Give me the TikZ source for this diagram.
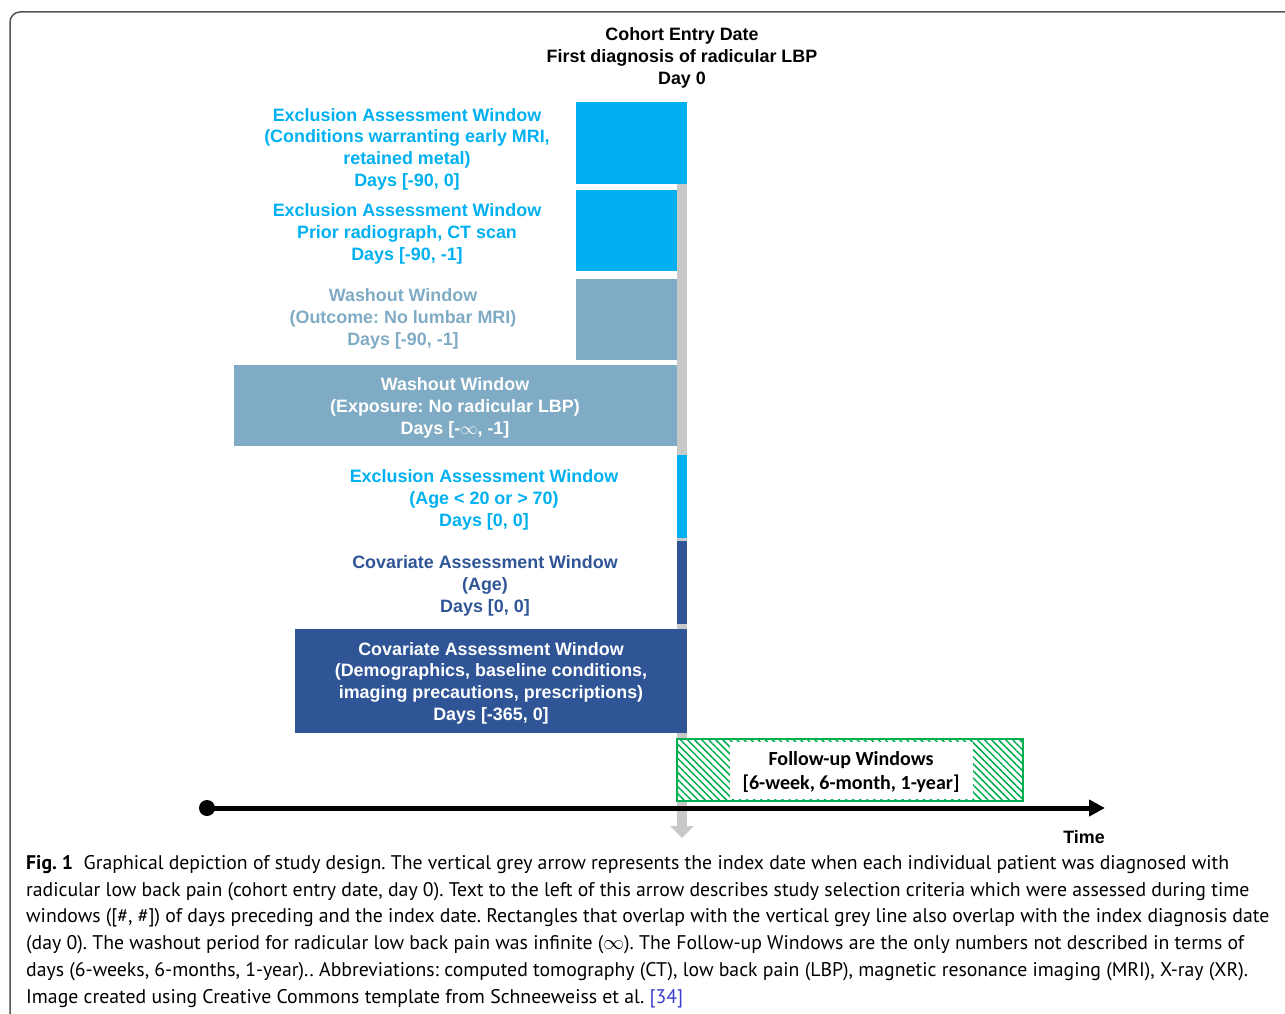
\documentclass[tikz,border=0pt]{standalone}
\usepackage{fontspec}
\setmainfont{Liberation Sans}
\newfontfamily\capfont{PT Sans}
\newfontfamily\fufont{Carlito}
\usetikzlibrary{arrows.meta, patterns.meta}
\frenchspacing

\definecolor{exclcyan}{HTML}{00B0F0}
\definecolor{washblue}{HTML}{7FABC4}
\definecolor{covblue}{HTML}{2F5597}
\definecolor{fugreen}{HTML}{00B050}
\definecolor{daygrey}{HTML}{C8C8C8}
\definecolor{framegrey}{HTML}{555555}
\definecolor{citeblue}{HTML}{3A3AD0}

\tikzset{
  lbl/.style={align=center, inner sep=0pt, font=\bfseries\fontsize{17.9}{21.7}\selectfont},
  exlbl/.style={lbl, text=exclcyan},
  walbl/.style={lbl, text=washblue},
  colbl/.style={lbl, text=covblue},
  inlbl/.style={lbl, text=white},
}

\begin{document}
\begin{tikzpicture}[x=1pt, y=-1pt]
  \useasboundingbox (0,0) rectangle (1285,1014);
  % frame
  \draw[framegrey, line width=1.5pt, rounded corners=10pt] (10,1014) -- (10,12) -- (1285,12);

  % day 0 line
  \node[lbl] (entry) at (682,58) {Cohort Entry Date\\First diagnosis of radicular LBP\\Day 0};
  \coordinate (dtop) at (682,102);
  \coordinate (dbot) at (682,838);
  \draw[daygrey, line width=10pt, -{Triangle[length=12pt, width=23pt]}] (dtop) -- (dbot);

  % windows
  \fill[exclcyan] (576,102) rectangle (687,184);
  \node[exlbl] (ex1) at (407,149) {Exclusion Assessment Window\\(Conditions warranting early MRI,\\retained metal)\\Days [-90, 0]};
  \fill[exclcyan] (576,190) rectangle (677,271);
  \node[exlbl] (ex2) at (407,234) {Exclusion Assessment Window\\Prior radiograph, CT scan\\Days [-90, -1]};
  \fill[washblue] (576,279) rectangle (677,360);
  \node[walbl] (wo1) at (403,319) {Washout Window\\(Outcome: No lumbar MRI)\\Days [-90, -1]};
  \fill[washblue] (234,365) rectangle (677,446);
  \node[inlbl] (wo2) at (455,408) {Washout Window\\(Exposure: No radicular LBP)\\Days [-$\infty$, -1]};
  \fill[exclcyan] (677,455) rectangle (687,538);
  \node[exlbl] (ex3) at (484,500) {Exclusion Assessment Window\\(Age < 20 or > 70)\\Days [0, 0]};
  \fill[covblue] (677,541) rectangle (687,624);
  \node[colbl] (co1) at (485,586) {Covariate Assessment Window\\(Age)\\Days [0, 0]};
  \fill[covblue] (295,629) rectangle (687,733);
  \node[inlbl] (co2) at (491,683) {Covariate Assessment Window\\(Demographics, baseline conditions,\\imaging precautions, prescriptions)\\Days [-365, 0]};

  % follow-up
  \fill[white] (677,739) rectangle (1023,801);
  \fill[pattern={Lines[angle=-45, distance=5pt, line width=1.5pt]}, pattern color=fugreen] (677,739) rectangle (1023,801);
  \fill[white] (730,741.5) rectangle (973,798.5);
  \draw[fugreen, line width=1.2pt] (677,739) rectangle (1023,801);
  \node[align=center, inner sep=0pt, font=\fufont\bfseries\fontsize{20}{24}\selectfont] (fu) at (851,772) {Follow-up Windows\\{}[6-week, 6-month, 1-year]};

  % time axis
  \node[circle, fill=black, minimum size=16pt, inner sep=0pt] (t0) at (207,808) {};
  \coordinate (tend) at (1105,808);
  \draw[line width=5pt, -{Triangle[length=16pt, width=16pt]}] (t0.center) -- (tend);
  \node[lbl] (time) at (1084,837) {Time};

  % caption
  \node[anchor=north west, align=left, inner sep=0pt, font=\capfont\fontsize{19.75}{26.8}\selectfont] (cap) at (26,855) {%
    \textbf{Fig. 1}\ \ Graphical depiction of study design. The vertical grey arrow represents the index date when each individual patient was diagnosed with\\
    radicular low back pain (cohort entry date, day 0). Text to the left of this arrow describes study selection criteria which were assessed during time\\
    windows ([\#, \#]) of days preceding and the index date. Rectangles that overlap with the vertical grey line also overlap with the index diagnosis date\\
    (day 0). The washout period for radicular low back pain was infinite ($\infty$). The Follow-up Windows are the only numbers not described in terms of\\
    days (6-weeks, 6-months, 1-year).. Abbreviations: computed tomography (CT), low back pain (LBP), magnetic resonance imaging (MRI), X-ray (XR).\\
    Image created using Creative Commons template from Schneeweiss et al. {\color{citeblue}[34]}};
\end{tikzpicture}
\end{document}
